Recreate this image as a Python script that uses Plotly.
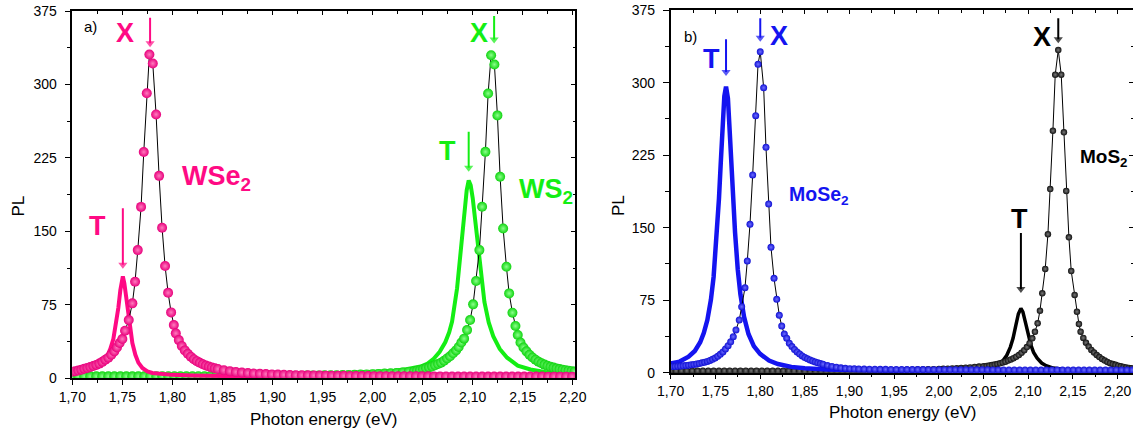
import plotly.graph_objects as go

# ------------------------------------------------------------------ data
# Panel a) WSe2 exciton X (pink spheres)
WSE2_X_E = [1.700, 1.703, 1.706, 1.709, 1.712, 1.715, 1.718, 1.721, 1.724, 1.727,
            1.730, 1.733, 1.736, 1.739, 1.742, 1.7446, 1.7473,
            1.7500, 1.7527, 1.7564, 1.7600, 1.7627, 1.7654, 1.7687, 1.7714, 1.7744, 1.7770,
            1.7804, 1.7837, 1.7867, 1.7897, 1.7927, 1.7957, 1.7987, 1.8014, 1.8034,
            1.8064, 1.8094, 1.8124, 1.8154, 1.8184, 1.8214, 1.8244, 1.8274, 1.8304, 1.8334,
            1.8364, 1.8394, 1.8424, 1.8454,
            1.8514, 1.8574, 1.8634, 1.8694, 1.8754, 1.8814, 1.8874, 1.8934, 1.8994, 1.9054,
            1.9114, 1.9174, 1.9234, 1.9294, 1.9354, 1.9414, 1.9474, 1.9534, 1.9594, 1.9654,
            1.9714, 1.9774, 1.9834, 1.9894, 1.9954, 2.0014, 2.0074, 2.0134, 2.0194, 2.0254,
            2.0314, 2.0374, 2.0434, 2.0494, 2.0554, 2.0614, 2.0674, 2.0734, 2.0794, 2.0854,
            2.0914, 2.0974, 2.1034, 2.1094, 2.1154, 2.1214, 2.1274, 2.1334, 2.1394, 2.1454,
            2.1514, 2.1574, 2.1634, 2.1694, 2.1754, 2.1814, 2.1874, 2.1934, 2.1994, 2.2054]
WSE2_X_PL = [6.7, 7.3, 8.0, 8.8, 9.8, 10.6, 11.5, 12.6, 13.7, 15.0,
             16.8, 19.0, 21.0, 24.0, 27.5, 31.5, 36.0,
             40.1, 48.6, 59.5, 76.5, 98.6, 130.9, 175.0, 231.0, 291.0, 330.6,
             321.4, 269.4, 206.7, 153.7, 114.6, 87.3, 67.3, 54.4, 45.9,
             39.0, 33.0, 28.5, 25.0, 22.0, 19.5, 17.5, 15.8, 14.3, 13.0,
             12.0, 11.0, 10.2, 9.5,
             8.3, 7.3, 6.5, 5.9, 5.4, 4.9, 4.6, 4.3, 4.0, 3.8,
             3.6, 3.4, 3.2, 3.1, 3.0, 2.9, 2.8, 2.7, 2.6, 2.55,
             2.5, 2.4, 2.35, 2.3, 2.25, 2.2, 2.2, 2.15, 2.1, 2.1,
             2.05, 2.05, 2.0, 2.0, 2.0, 1.95, 1.95, 1.9, 1.9, 1.9,
             1.9, 1.85, 1.85, 1.85, 1.8, 1.8, 1.8, 1.8, 1.8, 1.75,
             1.75, 1.75, 1.75, 1.75, 1.7, 1.7, 1.7, 1.7, 1.7, 1.7]

# Panel a) WSe2 trion T (pink line)
WSE2_T_E = [1.700, 1.710, 1.720, 1.725, 1.730, 1.735, 1.738, 1.741, 1.744, 1.746,
            1.748, 1.7495, 1.7505, 1.752, 1.754, 1.756, 1.758, 1.760, 1.763, 1.766,
            1.770, 1.775, 1.780, 1.790, 1.800, 1.820, 1.850, 1.900, 2.000, 2.100, 2.205]
WSE2_T_PL = [7.0, 9.0, 12.0, 14.0, 17.0, 23.0, 30.0, 40.0, 56.0, 72.0,
             90.0, 102.0, 104.0, 97.0, 82.0, 63.0, 48.0, 36.0, 24.0, 16.0,
             10.5, 7.0, 5.5, 4.2, 3.5, 2.8, 2.2, 1.7, 1.3, 1.1, 1.0]

# Panel a) WS2 exciton X (green spheres)
WS2_X_E = [1.700, 1.706, 1.712, 1.718, 1.724, 1.730, 1.736, 1.742, 1.748, 1.754,
           1.760, 1.766, 1.772, 1.778, 1.784, 1.790, 1.796, 1.802, 1.808, 1.814,
           1.820, 1.826, 1.832, 1.838, 1.844, 1.850, 1.856, 1.862, 1.868, 1.874,
           1.880, 1.886, 1.892, 1.898, 1.904, 1.910, 1.916, 1.922, 1.928, 1.934,
           1.940, 1.946, 1.952, 1.958, 1.964, 1.970, 1.976, 1.982, 1.988, 1.994,
           2.000, 2.006, 2.012, 2.018, 2.024, 2.030, 2.036,
           2.0414, 2.0444, 2.0474, 2.0504, 2.0534, 2.0564, 2.0594, 2.0624, 2.0654, 2.0684,
           2.0714, 2.0744, 2.0774, 2.0804, 2.0834, 2.0860, 2.0887,
           2.0914, 2.0944, 2.0974, 2.1004, 2.1034, 2.1067, 2.1094, 2.1127, 2.1154, 2.1184,
           2.1217, 2.1247, 2.1274, 2.1304, 2.1337, 2.1364, 2.1397, 2.1427, 2.1450,
           2.1477, 2.1507, 2.1537, 2.1567, 2.1597, 2.1627, 2.1657, 2.1687, 2.1717, 2.1747,
           2.1777, 2.1807, 2.1837, 2.1867, 2.1897, 2.1927, 2.1957, 2.1987, 2.2017, 2.2047]
WS2_X_PL = [2.0, 2.0, 2.0, 2.0, 2.0, 2.0, 2.0, 2.0, 2.0, 2.0,
            2.0, 2.0, 2.0, 2.0, 2.05, 2.05, 2.05, 2.1, 2.1, 2.1,
            2.1, 2.15, 2.15, 2.2, 2.2, 2.2, 2.25, 2.25, 2.3, 2.3,
            2.35, 2.4, 2.4, 2.45, 2.5, 2.55, 2.6, 2.65, 2.7, 2.75,
            2.8, 2.9, 3.0, 3.1, 3.2, 3.3, 3.45, 3.6, 3.8, 4.0,
            4.2, 4.5, 4.8, 5.1, 5.5, 6.0, 6.5,
            7.0, 7.6, 8.3, 9.2, 10.2, 11.1, 12.1, 13.3, 14.6, 16.0,
            18.0, 20.3, 22.5, 25.5, 28.5, 32.0, 36.5,
            40.5, 49.3, 59.5, 75.5, 99.3, 130.9, 175.1, 231.2, 290.8, 329.9,
            320.4, 268.4, 205.7, 153.0, 113.9, 86.7, 67.0, 53.4, 44.2,
            36.5, 31.5, 27.5, 24.0, 21.2, 19.0, 17.0, 15.4, 14.0, 12.8,
            11.8, 10.9, 10.1, 9.4, 8.8, 8.3, 7.8, 7.3, 6.9, 6.5]

# Panel a) WS2 trion T (green line)
WS2_T_E = [1.700, 1.750, 1.800, 1.850, 1.900, 1.950, 2.000, 2.020, 2.035, 2.048,
           2.055, 2.061, 2.067, 2.0727, 2.0765, 2.0794, 2.0844, 2.0894, 2.092, 2.094,
           2.096, 2.098, 2.100, 2.102, 2.1044, 2.1077, 2.1117, 2.116, 2.1205, 2.127,
           2.1344, 2.145, 2.1577, 2.1777, 2.205]
WS2_T_PL = [2.0, 2.3, 2.7, 3.2, 3.8, 4.6, 6.0, 7.5, 9.5, 12.0,
            15.0, 20.0, 27.0, 37.0, 47.0, 58.0, 92.0, 143.0, 172.0, 192.0,
            202.0, 197.0, 184.0, 166.0, 145.0, 107.0, 78.0, 57.0, 43.0, 30.0,
            21.0, 13.0, 9.0, 5.5, 4.0]

# Panel b) MoSe2 exciton X (blue spheres)
MOSE2_X_E = [1.699, 1.702, 1.705, 1.708, 1.711, 1.714, 1.717, 1.720, 1.723, 1.726,
             1.729, 1.732, 1.735, 1.738, 1.741, 1.7439, 1.7468, 1.7497, 1.7526, 1.7555,
             1.7584, 1.7613, 1.7642, 1.7671, 1.7700,
             1.7730, 1.7767, 1.7794, 1.7831, 1.7857, 1.7887, 1.7917, 1.7951, 1.7977, 1.8002,
             1.8040, 1.8066, 1.8096, 1.8122, 1.8156, 1.8186, 1.8215, 1.8242, 1.8271,
             1.8298, 1.8327, 1.8356, 1.8385, 1.8414, 1.8443, 1.8472, 1.8501, 1.8530, 1.8559,
             1.8588, 1.8617, 1.8646, 1.8675, 1.8704,
             1.8754, 1.8804, 1.8854, 1.8904, 1.8954, 1.9004, 1.9054, 1.9104,
             1.9164, 1.9224, 1.9284, 1.9344, 1.9404, 1.9464, 1.9524, 1.9584, 1.9644, 1.9704,
             1.9764, 1.9824, 1.9884, 1.9944, 2.0004, 2.0064, 2.0124, 2.0184, 2.0244, 2.0304,
             2.0364, 2.0424, 2.0484, 2.0544, 2.0604, 2.0664, 2.0724, 2.0784, 2.0844, 2.0904,
             2.0964, 2.1024, 2.1084, 2.1144, 2.1204, 2.1264, 2.1324, 2.1384, 2.1444, 2.1504,
             2.1564, 2.1624, 2.1684, 2.1744, 2.1804, 2.1864, 2.1924, 2.1984, 2.2044, 2.2104,
             2.2164, 2.2224]
MOSE2_X_PL = [6.1, 6.3, 6.5, 6.7, 6.9, 7.2, 7.5, 7.8, 8.2, 8.6,
              9.1, 9.6, 10.2, 10.9, 11.7, 12.7, 13.9, 15.3, 17.0, 19.0,
              21.5, 24.5, 28.0, 32.0, 37.2,
              44.2, 54.5, 68.3, 87.9, 115.5, 153.5, 204.5, 265.9, 319.0, 332.0,
              294.8, 233.2, 174.5, 129.7, 97.6, 75.9, 59.4, 48.3, 40.0,
              35.6, 30.4, 27.0, 24.0, 21.5, 19.3, 17.4, 15.8, 14.4, 13.2,
              12.1, 11.1, 10.3, 9.5, 8.8,
              7.5, 6.5, 5.7, 5.0, 4.5, 4.2, 4.0, 3.8,
              3.7, 3.6, 3.55, 3.5, 3.45, 3.4, 3.35, 3.3, 3.3, 3.25,
              3.2, 3.2, 3.15, 3.15, 3.1, 3.1, 3.05, 3.05, 3.0, 3.0,
              3.0, 2.95, 2.95, 2.95, 2.9, 2.9, 2.9, 2.9, 2.85, 2.85,
              2.85, 2.85, 2.85, 2.8, 2.8, 2.8, 2.8, 2.8, 2.8, 2.8,
              2.8, 2.8, 2.75, 2.75, 2.75, 2.75, 2.75, 2.75, 2.75, 2.75,
              2.75, 2.75]

# Panel b) MoSe2 trion T (blue line)
MOSE2_T_E = [1.700, 1.710, 1.720, 1.727, 1.733, 1.737, 1.741, 1.745, 1.748, 1.751,
             1.754, 1.756, 1.758, 1.760, 1.7619, 1.764, 1.766, 1.768, 1.770, 1.772,
             1.775, 1.778, 1.782, 1.787, 1.793, 1.800, 1.810, 1.820, 1.835, 1.850,
             1.875, 1.900, 1.950, 2.000, 2.100, 2.222]
MOSE2_T_PL = [9.5, 11.5, 16.5, 22.5, 31.5, 41.0, 54.5, 75.5, 99.0, 133.0,
              180.0, 217.0, 256.0, 286.0, 296.0, 284.0, 250.0, 210.0, 177.0, 145.0,
              107.0, 81.0, 58.0, 40.0, 27.5, 19.5, 12.5, 9.0, 6.0, 4.5,
              3.2, 2.5, 1.8, 1.4, 1.0, 0.7]

# Panel b) MoS2 exciton X (black spheres)
MOS2_X_E = [1.700, 1.706, 1.712, 1.718, 1.724, 1.730, 1.736, 1.742, 1.748, 1.754,
            1.760, 1.766, 1.772, 1.778, 1.784, 1.790, 1.796, 1.802, 1.808, 1.814,
            1.820, 1.826, 1.832, 1.838, 1.844, 1.850, 1.856, 1.862, 1.868, 1.874,
            1.880, 1.886, 1.892, 1.898, 1.904, 1.910, 1.916, 1.922, 1.928, 1.934,
            1.940, 1.946, 1.952, 1.958, 1.964, 1.970, 1.976, 1.982, 1.988, 1.994,
            2.000, 2.005, 2.010, 2.015, 2.020, 2.025, 2.030, 2.035, 2.040, 2.045, 2.050,
            2.0535, 2.0565, 2.0595, 2.0625, 2.0655, 2.0685, 2.0715, 2.0745, 2.0775, 2.0805,
            2.0835, 2.0865, 2.0895, 2.0925, 2.0955, 2.0985, 2.1015,
            2.1045, 2.1075, 2.1105, 2.1131, 2.1157, 2.1190, 2.1220, 2.1246, 2.1276, 2.1302,
            2.1336, 2.1369, 2.1399, 2.1425, 2.1455, 2.1481, 2.1519, 2.1545, 2.1567, 2.1586,
            2.1616, 2.1646, 2.1676, 2.1706, 2.1736, 2.1766, 2.1796, 2.1826, 2.1856, 2.1886,
            2.1916, 2.1946, 2.1976, 2.2006, 2.2036, 2.2066, 2.2096, 2.2126, 2.2156, 2.2186,
            2.2216]
MOS2_X_PL = [2.0, 2.0, 2.0, 2.0, 2.0, 2.0, 2.0, 2.0, 2.0, 2.0,
             2.0, 2.0, 2.0, 2.0, 2.0, 2.0, 2.0, 2.0, 2.0, 2.0,
             2.0, 2.0, 2.0, 2.0, 2.0, 2.05, 2.05, 2.1, 2.1, 2.15,
             2.15, 2.2, 2.2, 2.25, 2.3, 2.35, 2.4, 2.45, 2.5, 2.55,
             2.6, 2.7, 2.8, 2.9, 3.0, 3.1, 3.2, 3.35, 3.5, 3.65,
             3.8, 4.0, 4.2, 4.4, 4.6, 4.9, 5.2, 5.5, 5.9, 6.3, 6.7,
             7.0, 7.4, 7.9, 8.4, 9.0, 9.7, 10.5, 11.4, 12.5, 13.7,
             15.0, 16.5, 18.4, 20.6, 23.3, 26.5, 30.5,
             35.6, 42.4, 51.1, 64.1, 82.1, 107.3, 143.2, 190.0, 250.3, 308.3,
             333.8, 308.3, 248.7, 188.0, 140.0, 105.2, 80.4, 63.1, 50.4, 42.4,
             36.0, 31.0, 27.0, 23.5, 20.8, 18.3, 16.2, 14.2, 12.5, 11.1,
             9.9, 8.9, 8.1, 7.3, 6.6, 6.0, 5.4, 4.9, 4.5, 4.2,
             3.9]

# Panel b) MoS2 trion T (black line)
MOS2_T_E = [1.700, 1.800, 1.900, 1.950, 2.000, 2.030, 2.050, 2.060, 2.067, 2.072,
            2.076, 2.080, 2.083, 2.086, 2.089, 2.0918, 2.094, 2.097, 2.100, 2.103,
            2.106, 2.110, 2.115, 2.120, 2.128, 2.140, 2.160, 2.190, 2.222]
MOS2_T_PL = [1.5, 1.5, 1.6, 1.8, 2.2, 3.0, 4.0, 6.0, 9.0, 12.8,
             18.0, 26.5, 35.5, 48.5, 61.0, 66.4, 63.0, 51.5, 38.5, 28.5,
             21.0, 15.0, 10.0, 7.3, 4.8, 3.3, 2.2, 1.5, 1.2]

X_TICKS = [1.70, 1.75, 1.80, 1.85, 1.90, 1.95, 2.00, 2.05, 2.10, 2.15, 2.20]
X_TICK_LABELS = ["1,70", "1,75", "1,80", "1,85", "1,90", "1,95",
                 "2,00", "2,05", "2,10", "2,15", "2,20"]
Y_TICKS = [0, 75, 150, 225, 300, 375]
Y_TICK_LABELS = ["0", "75", "150", "225", "300", "375"]

for a, b in [(WSE2_X_E, WSE2_X_PL), (WSE2_T_E, WSE2_T_PL), (WS2_X_E, WS2_X_PL),
             (WS2_T_E, WS2_T_PL), (MOSE2_X_E, MOSE2_X_PL), (MOSE2_T_E, MOSE2_T_PL),
             (MOS2_X_E, MOS2_X_PL), (MOS2_T_E, MOS2_T_PL)]:
    assert len(a) == len(b), (len(a), len(b))

# ------------------------------------------------------------------ style
PINK, PINK_D, PINK_L = "#FF0A84", "#E8007C", "#FF7CBE"
GREEN, GREEN_D, GREEN_L = "#14EE14", "#10D410", "#8CFF8C"
BLUE, BLUE_D, BLUE_L = "#1414F0", "#1010D4", "#6E6EFF"
BLACK, BLACK_D, BLACK_L = "#000000", "#101010", "#7A7A7A"
FONT = "Liberation Sans, Arial, sans-serif"

W, H = 1133, 437


def fx(px):
    return px / W


def fy(py):
    return 1 - py / H


fig = go.Figure()


def add_T(x, y, color, width, xa, ya):
    fig.add_trace(go.Scatter(x=x, y=y, mode="lines", line=dict(color=color, width=width),
                             xaxis=xa, yaxis=ya, showlegend=False, hoverinfo="skip"))


def add_X(x, y, dark, light, size, xa, ya):
    fig.add_trace(go.Scatter(x=x, y=y, mode="lines+markers",
                             line=dict(color="black", width=1),
                             marker=dict(size=size, color=dark,
                                         gradient=dict(type="radial", color=light),
                                         line=dict(width=0)),
                             xaxis=xa, yaxis=ya, showlegend=False, hoverinfo="skip"))


def add_arrow(x, head, tail, color, xa, ya):
    # vertical arrow pointing down at a peak (triangle head centred just above the tip)
    fig.add_trace(go.Scatter(x=[x, x], y=[tail, head], mode="lines+markers",
                             line=dict(color=color, width=2),
                             marker=dict(symbol="triangle-down", size=[0, 8],
                                         color=color, line=dict(width=0)),
                             xaxis=xa, yaxis=ya, showlegend=False, hoverinfo="skip",
                             cliponaxis=False))


def peak_x(xs, ys):
    return xs[ys.index(max(ys))]


# panel a
add_T(WS2_T_E, WS2_T_PL, GREEN, 4, "x", "y")
add_X(WS2_X_E, WS2_X_PL, GREEN_D, GREEN_L, 10, "x", "y")
add_T(WSE2_T_E, WSE2_T_PL, PINK, 4, "x", "y")
add_X(WSE2_X_E, WSE2_X_PL, PINK_D, PINK_L, 10, "x", "y")
add_arrow(peak_x(WSE2_X_E, WSE2_X_PL) + 0.0007, 342, 368, PINK, "x", "y")
add_arrow(peak_x(WSE2_T_E, WSE2_T_PL), 116, 173.5, PINK, "x", "y")
add_arrow(peak_x(WS2_X_E, WS2_X_PL) + 0.003, 346, 370, GREEN, "x", "y")
add_arrow(peak_x(WS2_T_E, WS2_T_PL), 215, 251.6, GREEN, "x", "y")
# panel b
add_T(MOS2_T_E, MOS2_T_PL, BLACK, 3.5, "x2", "y2")
add_X(MOS2_X_E, MOS2_X_PL, BLACK_D, BLACK_L, 6.5, "x2", "y2")
add_T(MOSE2_T_E, MOSE2_T_PL, BLUE, 4.5, "x2", "y2")
add_X(MOSE2_X_E, MOSE2_X_PL, BLUE_D, BLUE_L, 7, "x2", "y2")
add_arrow(peak_x(MOSE2_T_E, MOSE2_T_PL), 311, 345, BLUE, "x2", "y2")
add_arrow(peak_x(MOSE2_X_E, MOSE2_X_PL), 346.5, 366.6, BLUE, "x2", "y2")
add_arrow(peak_x(MOS2_X_E, MOS2_X_PL), 345, 366.6, BLACK, "x2", "y2")
add_arrow(peak_x(MOS2_T_E, MOS2_T_PL), 86.5, 144.5, BLACK, "x2", "y2")
# empty traces so that the mirrored (inside-tick) axes are drawn
fig.add_trace(go.Scatter(x=[None], y=[None], xaxis="x3", yaxis="y3", showlegend=False))
fig.add_trace(go.Scatter(x=[None], y=[None], xaxis="x4", yaxis="y4", showlegend=False))

XR_A = [1.70, 2.2022]
XR_B = [1.70, 2.2172]
YR = [0, 375]

tickfont = dict(family=FONT, size=14, color="black")


def xaxis(domain, rng, anchor):
    return dict(domain=domain, range=rng, anchor=anchor, showline=True, mirror=True,
                linecolor="black", linewidth=1.5, showgrid=False, zeroline=False,
                tickmode="array", tickvals=X_TICKS, ticktext=X_TICK_LABELS,
                ticks="outside", ticklen=5, tickwidth=1.3, tickcolor="black",
                tickfont=tickfont, automargin=False,
                minor=dict(ticks="outside", ticklen=3, tickwidth=1, tickcolor="black",
                           tick0=1.70, dtick=0.025, showgrid=False))


def yaxis(domain, anchor):
    return dict(domain=domain, range=YR, anchor=anchor, showline=True, mirror=True,
                linecolor="black", linewidth=1.5, showgrid=False, zeroline=False,
                tickmode="array", tickvals=Y_TICKS, ticktext=Y_TICK_LABELS,
                ticks="outside", ticklen=6, tickwidth=1.3, tickcolor="black",
                tickfont=tickfont, automargin=False, ticklabelstandoff=5,
                minor=dict(ticks="outside", ticklen=3.5, tickwidth=1, tickcolor="black",
                           tick0=0, dtick=37.5, showgrid=False))


def xmirror(over, rng, anchor):
    return dict(overlaying=over, side="top", anchor=anchor, range=rng, showline=False,
                showgrid=False, zeroline=False, showticklabels=False, automargin=False,
                tickmode="array", tickvals=X_TICKS, ticks="inside", ticklen=4,
                tickwidth=1, tickcolor="black",
                minor=dict(ticks="inside", ticklen=2.5, tickwidth=1, tickcolor="black",
                           tick0=1.70, dtick=0.025))


def ymirror(over, anchor):
    return dict(overlaying=over, side="right", anchor=anchor, range=YR, showline=False,
                showgrid=False, zeroline=False, showticklabels=False, automargin=False,
                tickmode="array", tickvals=Y_TICKS, ticks="inside", ticklen=4,
                tickwidth=1, tickcolor="black",
                minor=dict(ticks="inside", ticklen=2.5, tickwidth=1, tickcolor="black",
                           tick0=0, dtick=37.5))


DOM_XA = [fx(72.3), fx(575)]
DOM_YA = [fy(378.3), fy(11)]
DOM_XB = [fx(670.7), 1.0]
DOM_YB = [fy(372.7), fy(10.2)]

annotations = []


def label(xr, yr, x, y, text, color, size, bold=True, xanchor="center"):
    t = "<b>%s</b>" % text if bold else text
    annotations.append(dict(x=x, y=y, xref=xr, yref=yr, text=t, showarrow=False,
                            xanchor=xanchor, yanchor="middle",
                            font=dict(family=FONT, size=size, color=color)))


# panel a labels
label("x", "y", 1.7182, 359.5, "a)", "black", 15, bold=False)
label("x", "y", 1.7527, 352.4, "X", PINK, 27)
label("x", "y", 1.7252, 155.4, "T", PINK, 27)
label("x", "y", 1.8080, 205, "WSe<sub>2</sub>", PINK, 27, xanchor="left")
label("x", "y", 2.1060, 352.3, "X", GREEN, 27)
label("x", "y", 2.0747, 232, "T", GREEN, 27)
label("x", "y", 2.1440, 191, "WS<sub>2</sub>", GREEN, 27, xanchor="left")

# panel b labels
label("x2", "y2", 1.7227, 347.6, "b)", "black", 15, bold=False)
label("x2", "y2", 1.7451, 324.5, "T", BLUE, 27)
label("x2", "y2", 1.8217, 348.3, "X", BLUE, 27)
label("x2", "y2", 1.8298, 183, "MoSe<sub>2</sub>", BLUE, 19.5, xanchor="left")
label("x2", "y2", 2.1150, 347.6, "X", "black", 27)
label("x2", "y2", 2.0900, 159, "T", "black", 27)
label("x2", "y2", 2.1553, 222, "MoS<sub>2</sub>", "black", 19, xanchor="left")

# axis titles
title_font = dict(family=FONT, size=17, color="black")
annotations.append(dict(x=fx(323.5), y=fy(419), xref="paper", yref="paper",
                        text="Photon energy (eV)", showarrow=False, font=title_font,
                        xanchor="center", yanchor="middle"))
annotations.append(dict(x=fx(902), y=fy(412), xref="paper", yref="paper",
                        text="Photon energy (eV)", showarrow=False, font=title_font,
                        xanchor="center", yanchor="middle"))
annotations.append(dict(x=fx(17.5), y=fy(206), xref="paper", yref="paper", text="PL",
                        textangle=-90, showarrow=False, font=title_font,
                        xanchor="center", yanchor="middle"))
annotations.append(dict(x=fx(619), y=fy(205), xref="paper", yref="paper", text="PL",
                        textangle=-90, showarrow=False, font=title_font,
                        xanchor="center", yanchor="middle"))

fig.update_layout(
    width=W, height=H, margin=dict(l=0, r=0, t=0, b=0, pad=0, autoexpand=False),
    paper_bgcolor="white", plot_bgcolor="white", showlegend=False,
    font=dict(family=FONT, color="black"),
    xaxis=xaxis(DOM_XA, XR_A, "y"), yaxis=yaxis(DOM_YA, "x"),
    xaxis2=xaxis(DOM_XB, XR_B, "y2"), yaxis2=yaxis(DOM_YB, "x2"),
    xaxis3=xmirror("x", XR_A, "y"), yaxis3=ymirror("y", "x"),
    xaxis4=xmirror("x2", XR_B, "y2"), yaxis4=ymirror("y2", "x2"),
    annotations=annotations,
)

fig.write_html("out.html", config={"displayModeBar": False},
               post_script="document.body.style.margin='0';")
